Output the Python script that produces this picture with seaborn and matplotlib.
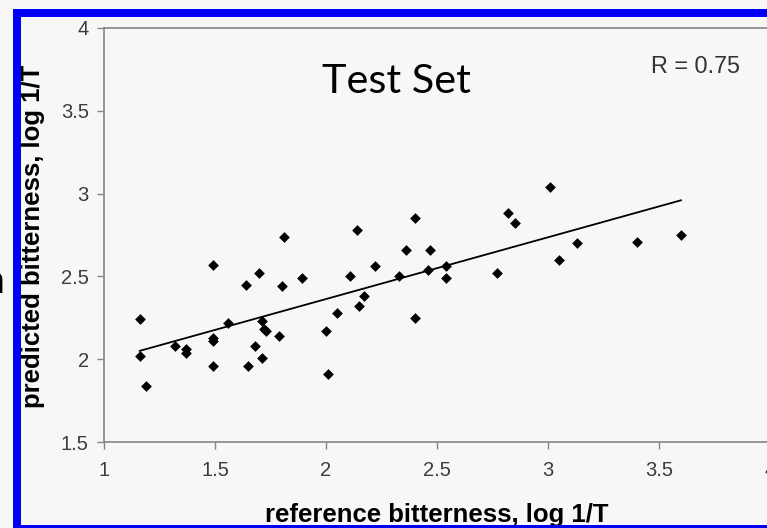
import matplotlib
matplotlib.use("Agg")
import matplotlib.pyplot as plt
from matplotlib.patches import Rectangle
import seaborn as sns
import pandas as pd

# Reference vs. predicted bitterness (log 1/T) for the test set compounds
reference = [1.16, 1.16, 1.19, 1.32, 1.37, 1.37, 1.49, 1.49, 1.49, 1.49,
             1.56, 1.64, 1.65, 1.68, 1.70, 1.71, 1.72, 1.73, 1.71, 1.79,
             1.80, 1.81, 1.89, 2.00, 2.01, 2.05, 2.11, 2.14, 2.15, 2.17,
             2.22, 2.33, 2.36, 2.40, 2.40, 2.46, 2.47, 2.54, 2.54, 2.77,
             2.82, 2.85, 3.01, 3.05, 3.13, 3.40, 3.60]
predicted = [2.24, 2.02, 1.84, 2.08, 2.06, 2.04, 2.57, 2.13, 2.11, 1.96,
             2.22, 2.45, 1.96, 2.08, 2.52, 2.23, 2.18, 2.17, 2.01, 2.14,
             2.44, 2.74, 2.49, 2.17, 1.91, 2.28, 2.50, 2.78, 2.32, 2.38,
             2.56, 2.50, 2.66, 2.85, 2.25, 2.54, 2.66, 2.56, 2.49, 2.52,
             2.88, 2.82, 3.04, 2.60, 2.70, 2.71, 2.75]

# Linear trend line end points
trend_x = [1.16, 3.60]
trend_y = [2.05, 2.96]

x_ticks = [1, 1.5, 2, 2.5, 3, 3.5, 4]
x_tick_labels = ["1", "1.5", "2", "2.5", "3", "3.5", "4"]
y_ticks = [1.5, 2, 2.5, 3, 3.5, 4]
y_tick_labels = ["1.5", "2", "2.5", "3", "3.5", "4"]

title_text = "Test Set"
r_text = "R = 0.75"
x_label = "reference bitterness, log 1/T"
y_label = "predicted bitterness, log 1/T"

sns.set_theme(style="white")
plt.rcParams["font.family"] = ["Liberation Sans", "DejaVu Sans"]

W, H = 767, 528
bg = "#f7f7f7"
fig = plt.figure(figsize=(W / 100, H / 100), dpi=100)
fig.patch.set_facecolor(bg)


def fx(px):
    return px / W


def fy(py):
    return 1 - py / H


ax = fig.add_axes([fx(104), fy(442), fx(770) - fx(104), fy(28) - fy(442)])
ax.set_facecolor(bg)

df = pd.DataFrame({"reference": reference, "predicted": predicted})
trend = pd.DataFrame({"x": trend_x, "y": trend_y})

sns.lineplot(data=trend, x="x", y="y", ax=ax, color="black", linewidth=1.3, zorder=2)
sns.scatterplot(data=df, x="reference", y="predicted", ax=ax, marker="D",
                color="black", s=30, linewidth=0, zorder=3)

ax.set_xlim(1, 4)
ax.set_ylim(1.5, 4)
ax.set_xticks(x_ticks)
ax.set_xticklabels(x_tick_labels)
ax.set_yticks(y_ticks)
ax.set_yticklabels(y_tick_labels)

for sp in ax.spines.values():
    sp.set_visible(True)
    sp.set_color("#858585")
    sp.set_linewidth(1.2)

ax.tick_params(axis="both", direction="out", length=5, width=1.0,
               color="#858585", labelcolor="#3c3c3c", labelsize=14.5,
               bottom=True, left=True, top=False, right=False)
ax.tick_params(axis="x", pad=8.5)
ax.tick_params(axis="y", pad=6)

ax.set_xlabel(x_label, fontsize=18.5, fontweight="bold", color="black")
ax.xaxis.label.set_verticalalignment("baseline")
ax.xaxis.set_label_coords(fx(437), fy(522), transform=fig.transFigure)

ax.set_ylabel(y_label, fontsize=18.5, fontweight="bold", color="black")
ax.yaxis.label.set_verticalalignment("center")
ax.yaxis.set_label_coords(fx(33), fy(236), transform=fig.transFigure)

fig.text(fx(396), fy(93), title_text, fontsize=29.8, family=["Lato", "DejaVu Sans"],
         color="black", ha="center", va="baseline")
fig.text(fx(651), fy(73), r_text, fontsize=16.8, color="#333333",
         ha="left", va="baseline")

# fragment of neighbouring slide text at the far left
fig.text(fx(4), fy(293), "n", fontsize=29.8, family=["Lato", "DejaVu Sans"],
         color="black", ha="right", va="baseline")

# blue frame around the chart
frame = Rectangle((fx(17), fy(529)), fx(800) - fx(17), fy(13) - fy(529),
                  transform=fig.transFigure, fill=False, edgecolor="#0000f8",
                  linewidth=8 * 0.72, clip_on=False, zorder=10)
fig.add_artist(frame)

fig.savefig("out.png", dpi=100, facecolor=bg)
